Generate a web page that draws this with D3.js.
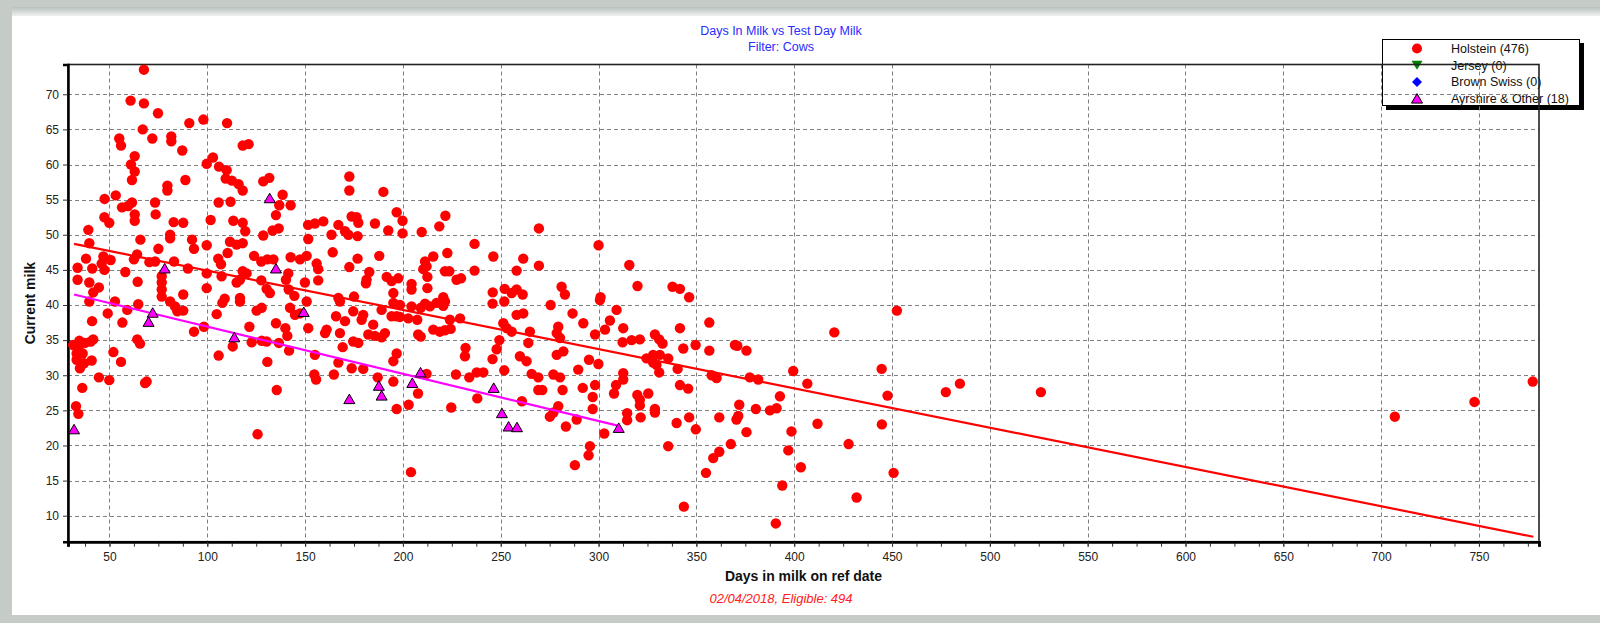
<!DOCTYPE html>
<html>
<head>
<meta charset="utf-8">
<script src="https://cdn.jsdelivr.net/npm/d3@7/dist/d3.min.js"></script>
<style>
  body { margin: 0; background: #c5ccc8; }
  svg { display: block; }
  text { font-family: "Liberation Sans", Arial, sans-serif; }
</style>
</head>
<body>
<div id="chart"></div>
<script>
// Days in milk vs test day milk

// Holstein cows: [days in milk, current milk]
const holstein = [
  [67.6,73.5],[60.8,69.1],[67.6,68.7],[74.8,67.3],[90.8,65.9],[98.0,66.4],[110.1,65.9],[67.0,65.0],[55.0,63.7],[55.9,62.7],
  [71.9,63.7],[81.6,64.0],[81.6,63.3],[87.2,62.0],[118.1,62.7],[121.1,62.9],[62.9,61.2],[61.0,60.0],[62.9,59.0],[61.5,57.8],
  [88.8,57.8],[79.6,57.0],[79.6,56.3],[99.7,60.1],[102.9,61.0],[106.0,59.7],[109.9,59.2],[109.4,58.0],[112.6,57.7],[116.0,57.2],
  [118.1,56.3],[128.6,57.6],[131.7,58.1],[47.5,55.1],[53.2,55.6],[56.4,53.9],[59.5,54.1],[61.5,54.6],[73.3,54.6],[73.6,52.9],
  [62.9,52.9],[62.9,52.0],[47.4,52.5],[49.9,51.7],[82.8,51.8],[87.7,51.7],[101.7,52.1],[105.8,54.6],[111.9,54.7],[138.5,55.7],
  [136.8,54.2],[135.1,52.8],[133.4,50.6],[136.5,50.9],[113.3,52.0],[118.1,51.7],[119.4,50.5],[128.6,49.9],[142.6,54.2],[39.2,50.7],
  [39.7,48.8],[65.8,49.3],[81.0,50.0],[81.0,49.5],[92.2,49.3],[93.2,48.0],[99.7,48.5],[111.6,49.0],[118.1,48.8],[115.0,48.6],
  [75.0,48.0],[110.4,47.4],[151.5,51.4],[151.6,49.4],[155.0,51.6],[159.3,51.9],[38.0,46.6],[41.2,45.2],[46.9,46.9],[46.0,45.9],
  [47.4,45.0],[50.6,46.4],[58.1,44.7],[64.1,47.2],[62.5,46.5],[70.4,46.1],[73.3,46.2],[83.0,46.2],[90.1,45.2],[105.6,46.6],
  [107.0,45.8],[99.7,44.5],[107.3,44.1],[118.1,44.8],[120.1,44.5],[123.9,47.0],[127.6,46.2],[130.7,46.5],[133.8,46.5],[142.6,46.8],
  [147.4,46.5],[150.8,47.0],[155.9,45.9],[156.7,45.1],[149.9,43.2],[156.7,43.5],[141.4,44.5],[140.2,43.6],[141.6,42.2],[127.6,43.5],
  [130.3,42.3],[132.0,41.7],[144.5,41.3],[33.7,45.3],[33.7,43.6],[39.7,43.2],[41.7,41.8],[44.6,42.5],[64.4,43.3],[76.7,44.1],
  [76.7,43.2],[76.7,42.2],[76.7,41.2],[99.7,42.4],[116.7,43.6],[115.0,43.2],[87.7,41.5],[108.9,40.9],[116.7,41.0],
  [39.7,40.5],[49.1,38.8],[41.1,37.7],[56.6,37.5],[59.1,39.3],[64.7,40.1],[52.8,40.5],[31.5,34.3],[34.6,34.9],[37.5,34.6],
  [40.4,34.8],[41.7,35.1],[33.2,33.1],[36.3,33.1],[33.2,32.2],[37.0,31.7],[34.9,31.0],[40.9,32.1],[34.1,33.9],[52.0,33.3],
  [55.9,31.9],[44.6,29.7],[49.9,29.3],[36.1,28.2],[64.2,35.1],[65.6,34.5],[68.2,28.9],[69.0,29.1],[32.9,25.6],[34.1,24.5],
  [81.0,40.5],[84.7,39.1],[87.7,39.2],[83.5,39.8],[93.2,36.2],[98.3,36.9],[104.8,38.7],[107.7,40.3],[116.7,40.5],[121.5,36.9],
  [122.7,34.7],[127.8,34.9],[130.3,34.8],[105.8,32.8],[113.0,34.1],[130.7,31.9],[135.5,27.9],[135.1,37.4],[125.2,39.2],[127.8,39.6],
  [139.9,36.7],[140.9,35.6],[136.6,34.6],[141.8,33.5],[142.3,39.6],[144.8,38.6],[147.4,38.8],[151.6,36.7],[155.0,32.9],[154.7,30.1],
  [155.6,29.4],[160.2,36.0],[161.0,36.5],[125.7,21.6],[150.8,40.5],
  [172.6,58.3],[172.6,56.3],[190.0,56.1],[167.0,51.4],[173.8,52.6],[176.3,52.5],[177.2,51.7],[170.4,50.5],[172.1,50.0],[176.8,49.8],
  [163.5,50.0],[164.1,47.5],[185.7,51.6],[192.5,50.6],[196.8,53.2],[199.8,52.0],[199.8,50.2],[209.6,50.4],[218.6,51.2],[221.7,52.7],
  [236.6,48.7],[269.5,50.9],[300.0,48.5],[187.9,47.0],[176.8,46.6],[172.6,45.4],[182.8,44.7],[181.4,43.6],[181.1,43.1],[191.7,44.0],
  [194.2,43.4],[197.6,43.8],[204.4,43.0],[204.4,42.2],[195.1,41.7],[212.5,44.0],[212.5,42.4],[211.3,46.2],[212.1,45.5],[210.4,45.1],
  [215.5,46.9],[222.7,47.4],[221.5,44.8],[223.7,44.8],[227.4,43.6],[229.7,43.8],[236.6,44.9],[246.2,46.9],[261.5,46.6],[258.1,44.9],
  [269.5,45.6],[245.9,41.8],[252.0,42.3],[255.6,41.7],[258.1,42.2],[261.2,41.5],[281.1,42.6],[282.8,41.5],[301.0,41.1],[220.6,41.1],
  [167.0,41.0],[175.0,41.2],
  [167.8,40.5],[165.8,38.4],[174.6,39.1],[170.4,37.7],[167.8,36.0],[179.7,38.6],[178.9,37.9],[184.8,37.2],[189.1,39.3],[194.2,38.4],
  [196.8,38.4],[198.5,38.3],[182.3,35.8],[185.7,35.6],[189.1,35.4],[190.8,36.0],[174.6,34.8],[177.2,34.6],[169.2,34.0],[195.1,40.3],
  [198.5,40.0],[202.7,38.1],[207.3,37.9],[204.4,39.8],[209.1,39.6],[207.8,35.8],[209.1,35.5],[211.3,40.2],[213.8,39.8],[217.2,40.3],
  [220.6,39.9],[221.5,40.5],[215.5,36.5],[218.9,36.2],[221.5,36.4],[224.4,36.6],[224.0,37.9],[229.2,38.1],[196.8,33.1],[195.1,32.0],
  [167.0,31.8],[164.7,30.1],[173.8,31.0],[179.7,30.9],[187.1,29.7],[195.1,29.1],[196.8,25.2],[202.9,25.8],[207.7,27.4],[212.1,30.2],
  [204.1,16.2],[227.1,30.1],[233.9,29.7],[237.7,30.4],[241.1,30.4],[238.0,26.7],[224.7,25.4],[232.0,33.9],[231.7,32.7],[245.8,32.3],
  [247.9,33.7],[249.3,35.0],[245.8,40.2],[251.8,30.7],[251.3,37.4],[253.0,36.7],[255.6,36.2],[251.8,40.5],[258.1,38.6],[261.5,38.8],
  [264.9,36.2],[264.1,34.6],[259.8,32.7],[263.2,32.0],[265.8,30.2],[269.2,29.7],[269.2,27.9],[271.2,27.9],[260.8,26.3],[275.5,40.0],
  [286.7,38.8],[279.4,36.9],[278.6,36.0],[280.3,35.3],[278.6,32.9],[282.0,33.4],[276.9,30.1],[280.3,29.7],[281.6,27.9],[279.4,25.6],
  [276.9,24.7],[275.1,24.1],[283.3,22.7],[288.8,23.7],[289.6,30.8],[291.9,28.2],[295.1,32.2],[292.2,37.4],[298.2,35.8],[299.9,31.6],
  [298.2,28.6],[297.0,26.9],[297.0,25.2],[303.3,36.5],[305.8,37.8],[308.9,28.6],[307.9,27.4],[302.9,21.7],[295.6,19.9],[294.9,18.6],
  [287.9,17.2],[300.7,40.7],[309.2,39.3],
  [315.7,45.7],[319.9,42.7],[337.8,42.6],[341.6,42.3],[346.3,41.1],[312.6,36.7],[312.3,34.7],[316.9,35.0],[321.1,35.1],[328.8,35.8],
  [331.0,35.1],[332.7,34.5],[341.6,36.7],[343.3,33.8],[349.6,34.3],[356.6,37.5],[356.6,33.5],[369.7,34.3],[370.9,34.2],[375.6,33.5],
  [420.5,36.1],[452.5,39.2],[324.5,32.4],[327.9,32.9],[331.3,32.9],[335.6,32.4],[327.9,31.8],[329.6,31.5],[331.0,30.4],[312.6,30.3],
  [312.6,29.4],[340.4,30.9],[341.6,28.6],[345.8,28.1],[357.8,30.0],[360.3,29.6],[377.3,29.7],[381.6,29.4],[399.5,30.6],[406.7,28.8],
  [444.7,30.9],[447.7,27.1],[477.5,27.6],[484.7,28.8],[319.8,27.2],[325.4,27.4],[321.1,26.5],[321.1,25.7],[314.6,24.6],[314.6,23.6],
  [321.5,24.0],[328.8,25.2],[328.8,24.7],[339.9,23.2],[346.3,24.0],[349.7,22.3],[361.7,24.0],[371.9,25.8],[371.4,24.2],[370.5,23.7],
  [380.4,25.2],[387.6,25.0],[391.0,25.3],[392.7,27.0],[375.6,21.9],[398.6,22.0],[411.9,23.1],[444.8,23.0],[367.6,20.2],[361.7,19.1],
  [358.6,18.2],[335.6,19.9],[354.9,16.1],[397.0,19.3],[403.4,16.9],[427.8,20.2],[393.9,14.3],[431.9,12.6],[450.8,16.1],[343.6,11.3],
  [390.6,8.9],
  [526.1,27.6],[707.0,24.1],[747.7,26.2],[777.5,29.1]
];

// Ayrshire & Other
const ayrshire = [
  [131.9,55.2],[78.2,45.2],[135.1,45.2],[31.9,22.3],[72.1,38.9],[70.0,37.6],[113.8,35.4],[149.3,39.0],[172.6,26.6],
  [187.7,28.5],[189.1,27.1],[204.8,28.9],[209.0,30.4],[246.4,28.2],[250.6,24.6],[254.0,22.7],[258.3,22.6],[310.3,22.5]
];

// trend lines, end points
const holsteinTrend = [[31.9,48.7],[777.8,7.0]];
const ayrshireTrend = [[31.9,41.5],[310.3,22.8]];

const xTicks = d3.range(50, 751, 50);
const xMinorTicks = d3.range(37.5, 780, 12.5);
const yTicks = d3.range(10, 71, 5);

const titleLines = ["Days In Milk vs Test Day Milk", "Filter: Cows"];
const footnote = "02/04/2018, Eligible: 494";
const legendItems = [
  {label: "Holstein (476)", shape: "circle", color: "#ff0000"},
  {label: "Jersey (0)", shape: "down", color: "#008000"},
  {label: "Brown Swiss (0)", shape: "diamond", color: "#0000ff"},
  {label: "Ayrshire & Other (18)", shape: "up", color: "#ff00ff"}
];

const width = 1600, height = 623;
const plot = {left: 68, right: 1539, top: 64.5, bottom: 541.7};

let x = d3.scaleLinear().domain([28.8, 780.7]).range([plot.left, plot.right]);
let y = d3.scaleLinear().domain([6.3, 74.24]).range([plot.bottom, plot.top]);

let svg = d3.select("#chart").append("svg")
    .attr("width", width)
    .attr("height", height);

// window chrome
let grad = svg.append("defs").append("linearGradient")
    .attr("id", "topbar").attr("x1", 0).attr("y1", 0).attr("x2", 0).attr("y2", 1);
grad.append("stop").attr("offset", "0%").attr("stop-color", "#b9c1bd");
grad.append("stop").attr("offset", "100%").attr("stop-color", "#eef0ef");

svg.append("rect").attr("width", width).attr("height", height).attr("fill", "#c5ccc8");
svg.append("rect").attr("x", 12).attr("y", 7).attr("width", width - 12).attr("height", 9)
    .attr("fill", "url(#topbar)");
svg.append("rect").attr("x", 12).attr("y", 16).attr("width", width - 12).attr("height", 599)
    .attr("fill", "#ffffff");

// titles
svg.selectAll(".title").data(titleLines).enter().append("text")
    .attr("x", 781).attr("y", (d, i) => 35 + i * 16)
    .attr("text-anchor", "middle")
    .style("font-size", "12.5px").style("fill", "#2b2bff")
    .text(d => d);

// legend (drawn under the plot frame, like the original)
let lg = svg.append("g");
lg.append("rect").attr("x", 1386).attr("y", 43).attr("width", 198).attr("height", 67).attr("fill", "#000");
lg.append("rect").attr("x", 1382.5).attr("y", 39.5).attr("width", 197).attr("height", 66)
    .attr("fill", "#fff").attr("stroke", "#000").attr("stroke-width", 1);

function markerPath(shape) {
  if (shape === "up") return "M0,-5L5.5,4.5L-5.5,4.5Z";
  if (shape === "down") return "M0,4.5L5.5,-4.5L-5.5,-4.5Z";
  if (shape === "diamond") return "M0,-5L5,0L0,5L-5,0Z";
  return d3.symbol(d3.symbolCircle, 80)();
}

let rows = lg.selectAll(".row").data(legendItems).enter().append("g")
    .attr("transform", (d, i) => "translate(0," + (48.5 + i * 16.7) + ")");
rows.append("path")
    .attr("transform", "translate(1417,0)")
    .attr("d", d => markerPath(d.shape))
    .attr("fill", d => d.color)
    .attr("stroke", d => d.shape === "up" ? "#000" : "none")
    .attr("stroke-width", 1);
rows.append("text")
    .attr("x", 1451).attr("dy", "0.35em")
    .style("font-size", "12.5px").style("fill", "#111")
    .text(d => d.label);

// grid
let grid = svg.append("g").attr("stroke", "#808080").attr("stroke-dasharray", "4,3").attr("stroke-width", 1);
grid.selectAll(".gx").data(xTicks).enter().append("line")
    .attr("x1", d => Math.round(x(d)) + 0.5).attr("x2", d => Math.round(x(d)) + 0.5)
    .attr("y1", plot.top).attr("y2", plot.bottom);
grid.selectAll(".gy").data(yTicks).enter().append("line")
    .attr("x1", plot.left).attr("x2", plot.right)
    .attr("y1", d => Math.round(y(d)) + 0.5).attr("y2", d => Math.round(y(d)) + 0.5);

// frame
svg.append("rect")
    .attr("x", plot.left).attr("y", plot.top)
    .attr("width", plot.right - plot.left).attr("height", plot.bottom - plot.top)
    .attr("fill", "none").attr("stroke", "#222").attr("stroke-width", 1.6);

// axes
let xAxis = svg.append("g")
    .attr("transform", "translate(0," + plot.bottom + ")")
    .call(d3.axisBottom(x).tickValues(xMinorTicks).tickSize(5).tickFormat(""));
xAxis.append("g")
    .call(d3.axisBottom(x).tickValues(xTicks).tickSize(5).tickPadding(6));
xAxis.selectAll(".domain").attr("stroke", "#000").attr("stroke-width", 2.5);
xAxis.selectAll("line").attr("stroke", "#333");
xAxis.selectAll("text").style("font-size", "12px").style("fill", "#222")
    .style("font-family", "'Liberation Sans', Arial, sans-serif");

let yAxis = svg.append("g")
    .attr("transform", "translate(" + plot.left + ",0)")
    .call(d3.axisLeft(y).tickValues(yTicks).tickSize(5).tickPadding(4));
yAxis.selectAll(".domain").attr("stroke", "#000").attr("stroke-width", 2.5);
yAxis.selectAll("line").attr("stroke", "#333");
yAxis.selectAll("text").style("font-size", "12px").style("fill", "#222")
    .style("font-family", "'Liberation Sans', Arial, sans-serif");

// axis titles
svg.append("text")
    .attr("x", (plot.left + plot.right) / 2).attr("y", 581)
    .attr("text-anchor", "middle")
    .style("font-size", "14px").style("font-weight", "bold").style("fill", "#111")
    .text("Days in milk on ref date");

svg.append("text")
    .attr("transform", "translate(35," + (plot.top + plot.bottom) / 2 + ")rotate(-90)")
    .attr("text-anchor", "middle")
    .style("font-size", "14px").style("font-weight", "bold").style("fill", "#111")
    .text("Current milk");

svg.append("text")
    .attr("x", 781).attr("y", 603)
    .attr("text-anchor", "middle")
    .style("font-size", "13px").style("font-style", "italic").style("fill", "#ff2020")
    .text(footnote);

// points
let marks = svg.append("g");
marks.selectAll(".hol").data(holstein).enter().append("circle")
    .attr("cx", d => x(d[0])).attr("cy", d => y(d[1])).attr("r", 5.2)
    .attr("fill", "#ff0000");

let line = d3.line().x(d => x(d[0])).y(d => y(d[1]));
marks.append("path").datum(holsteinTrend).attr("d", line)
    .attr("fill", "none").attr("stroke", "#ff0000").attr("stroke-width", 2.2);
marks.append("path").datum(ayrshireTrend).attr("d", line)
    .attr("fill", "none").attr("stroke", "#ff00ff").attr("stroke-width", 2.2);

marks.selectAll(".ayr").data(ayrshire).enter().append("path")
    .attr("transform", d => "translate(" + x(d[0]) + "," + y(d[1]) + ")")
    .attr("d", markerPath("up"))
    .attr("fill", "#ff00ff").attr("stroke", "#000").attr("stroke-width", 1);
</script>
</body>
</html>
